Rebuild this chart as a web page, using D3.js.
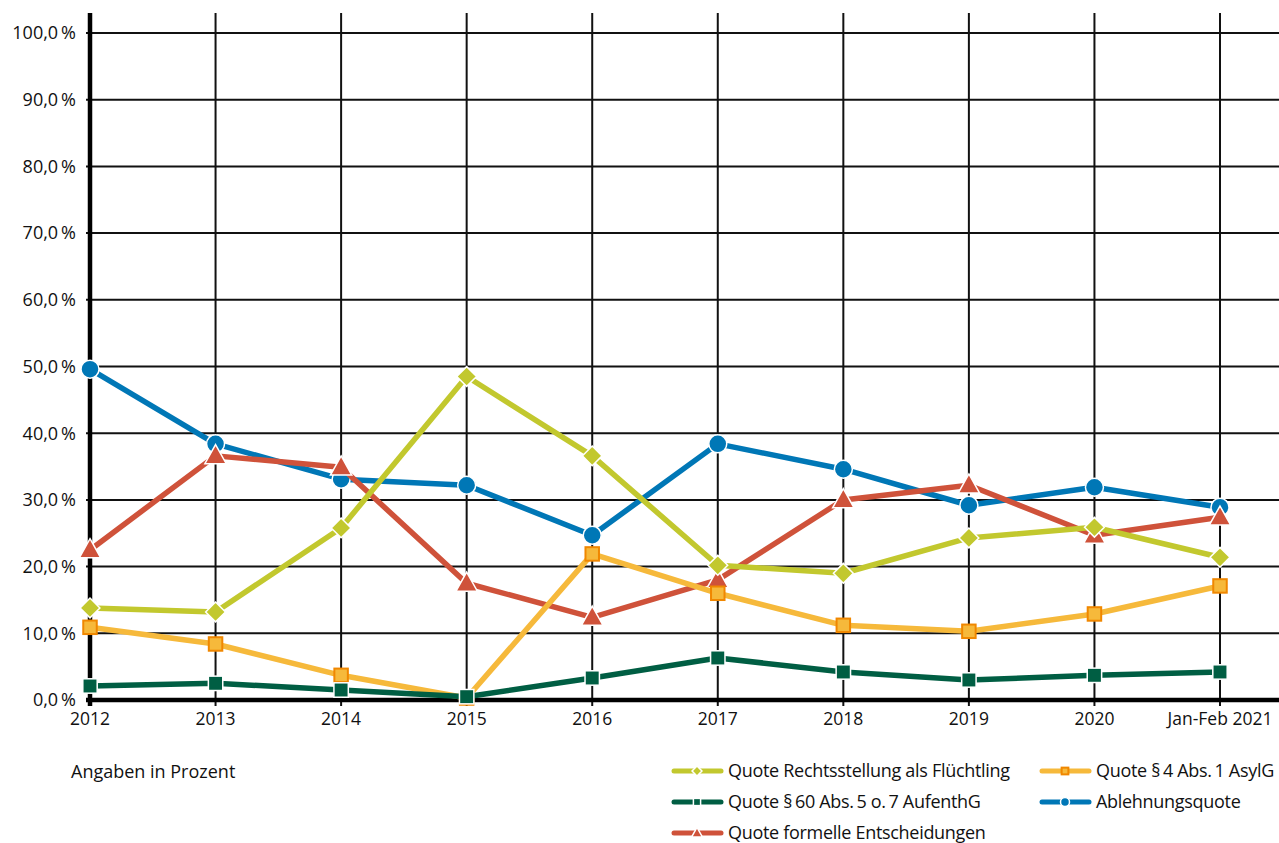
<!doctype html>
<html lang="de">
<head>
<meta charset="utf-8">
<title>Quoten</title>
<script src="https://d3js.org/d3.v7.min.js"></script>
<style>
  body { margin: 0; background: #fff; }
  svg { display: block; font-family: "Open Sans", "Noto Sans", sans-serif; }
</style>
</head>
<body>
<div id="main"></div>
<script type="text/javascript">
const years = ['2012', '2013', '2014', '2015', '2016', '2017', '2018', '2019', '2020', 'Jan-Feb 2021']
const yTicks = [0, 10, 20, 30, 40, 50, 60, 70, 80, 90, 100]

const rechtsstellung = [13.8, 13.2, 25.8, 48.5, 36.6, 20.2, 19.0, 24.3, 25.9, 21.4]
const asylG = [10.9, 8.4, 3.7, 0.3, 21.9, 16.0, 11.2, 10.3, 12.9, 17.1]
const aufenthG = [2.1, 2.5, 1.5, 0.5, 3.3, 6.3, 4.2, 3.0, 3.7, 4.2]
const ablehnung = [49.6, 38.4, 33.1, 32.2, 24.7, 38.4, 34.6, 29.2, 31.9, 28.9]
const formell = [22.5, 36.6, 34.9, 17.5, 12.4, 18.0, 30.0, 32.2, 24.7, 27.4]

const series = [
  { name: 'Quote Rechtsstellung als Flüchtling', values: rechtsstellung, colour: '#c2c82e', marker: 'diamond' },
  { name: 'Quote §\u20094 Abs.\u20091 AsylG', values: asylG, colour: '#f6b93b', marker: 'square-o' },
  { name: 'Quote §\u200960 Abs.\u20095 o.\u20097 AufenthG', values: aufenthG, colour: '#005e43', marker: 'square' },
  { name: 'Ablehnungsquote', values: ablehnung, colour: '#0077b6', marker: 'circle' },
  { name: 'Quote formelle Entscheidungen', values: formell, colour: '#cf523a', marker: 'triangle' }
]
// draw order in the picture: blue/red behind, others in front
const drawOrder = [3, 4, 0, 1, 2]

const W = 1279, H = 843
const svg = d3.select('#main').append('svg').attr('width', W).attr('height', H)

const x = d3.scalePoint().domain(years).range([90, 1220])
const y = d3.scaleLinear().domain([0, 100]).range([700, 33])

// horizontal grid
svg.append('g').selectAll('line').data(yTicks.slice(1)).enter().append('line')
  .attr('x1', 86).attr('x2', W).attr('y1', d => y(d)).attr('y2', d => y(d))
  .attr('stroke', '#111').attr('stroke-width', 2)

// vertical grid
svg.append('g').selectAll('line').data(years.slice(1)).enter().append('line')
  .attr('x1', d => x(d)).attr('x2', d => x(d)).attr('y1', 13).attr('y2', 706)
  .attr('stroke', '#111').attr('stroke-width', 2)

// axes
svg.append('line').attr('x1', x(years[0])).attr('x2', x(years[0])).attr('y1', 13).attr('y2', 706)
  .attr('stroke', '#000').attr('stroke-width', 4.5)
svg.append('line').attr('x1', 86).attr('x2', W).attr('y1', y(0)).attr('y2', y(0))
  .attr('stroke', '#000').attr('stroke-width', 4.5)

// y tick labels
svg.append('g').selectAll('text').data(yTicks).enter().append('text')
  .attr('x', 76).attr('y', d => y(d)).attr('dy', '0.35em')
  .attr('text-anchor', 'end').attr('font-size', 18).attr('fill', '#111')
  .text(d => d3.format('.1f')(d).replace('.', ',') + '\u2009%')

// x tick labels
svg.append('g').selectAll('text').data(years).enter().append('text')
  .attr('x', d => x(d)).attr('y', 725)
  .attr('text-anchor', 'middle').attr('font-size', 17.5).attr('fill', '#111')
  .text(d => d)

const line = d3.line().x((d, i) => x(years[i])).y(d => y(d))

const drawMarker = (g, type, colour, size) => {
  if (type === 'circle') {
    g.append('circle').attr('r', size).attr('fill', colour).attr('stroke', '#fff').attr('stroke-width', 1.5)
  } else if (type === 'diamond') {
    const s = size * 1.1
    g.append('path').attr('d', `M0,${-s} L${s},0 L0,${s} L${-s},0 Z`)
      .attr('fill', colour).attr('stroke', '#fff').attr('stroke-width', 1.5)
  } else if (type === 'square') {
    g.append('rect').attr('x', -size * 0.8).attr('y', -size * 0.8).attr('width', size * 1.6).attr('height', size * 1.6)
      .attr('fill', colour).attr('stroke', '#fff').attr('stroke-width', 1.5)
  } else if (type === 'square-o') {
    g.append('rect').attr('x', -size * 0.75).attr('y', -size * 0.75).attr('width', size * 1.5).attr('height', size * 1.5)
      .attr('fill', colour).attr('stroke', '#f08700').attr('stroke-width', 2)
  } else if (type === 'triangle') {
    const s = size * 1.25
    g.append('path').attr('d', `M0,${-s} L${s * 0.95},${s * 0.7} L${-s * 0.95},${s * 0.7} Z`)
      .attr('fill', colour).attr('stroke', '#fff').attr('stroke-width', 1.5)
  }
}

drawOrder.forEach(k => {
  const s = series[k]
  const g = svg.append('g')
  g.append('path').datum(s.values).attr('d', line)
    .attr('fill', 'none').attr('stroke', s.colour).attr('stroke-width', 5.5).attr('stroke-linejoin', 'round')
  s.values.forEach((v, i) => {
    const m = g.append('g').attr('transform', `translate(${x(years[i])},${y(v)})`)
    drawMarker(m, s.marker, s.colour, 9)
  })
})

// footer note
svg.append('text').attr('x', 71).attr('y', 778).attr('font-size', 18).attr('fill', '#111')
  .text('Angaben in Prozent')

// legend
const legendPos = [[672, 771], [1040, 771], [672, 802], [1040, 802], [672, 833]]
series.forEach((s, i) => {
  const [lx, ly] = legendPos[i]
  const g = svg.append('g').attr('transform', `translate(${lx},${ly})`)
  g.append('line').attr('x1', 2).attr('x2', 49).attr('y1', 0).attr('y2', 0)
    .attr('stroke', s.colour).attr('stroke-width', 5).attr('stroke-linecap', 'round')
  const m = g.append('g').attr('transform', 'translate(25,0)')
  drawMarker(m, s.marker, s.colour, 4.5)
  g.append('text').attr('x', 56).attr('y', 0).attr('dy', '0.35em')
    .attr('font-size', 18).attr('letter-spacing', -0.3).attr('fill', '#111')
    .text(s.name)
})
</script>
</body>
</html>
